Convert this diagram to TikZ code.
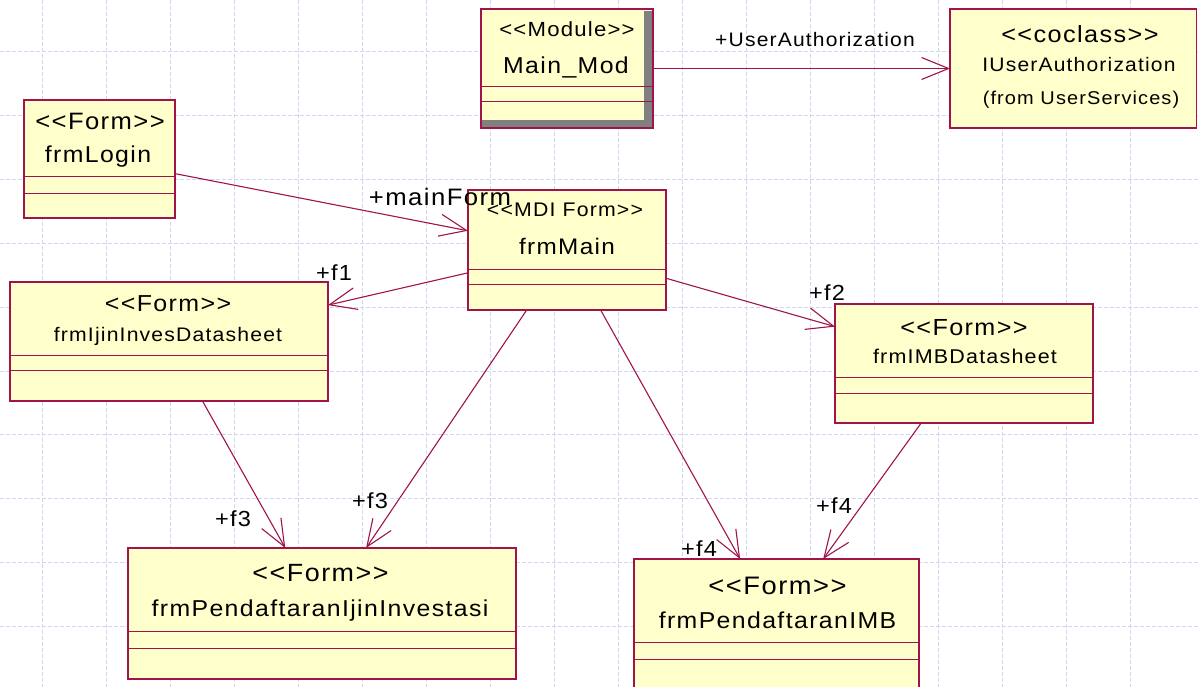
\documentclass[tikz,border=0pt]{standalone}
\usepackage{fontspec}
\setmainfont{Liberation Sans}[LetterSpace=6,FakeStretch=1.08,Ligatures=TeXOff]
\usetikzlibrary{arrows.meta,calc}
\usepackage{xcolor}
\definecolor{umlred}{HTML}{A0144B}
\definecolor{umlfill}{HTML}{FFFFCC}
\definecolor{umlgrid}{HTML}{CDD6F4}
\definecolor{umlshade}{HTML}{808080}
\newcommand{\setfs}[1]{\fontsize{#1}{#1}\selectfont}

\begin{document}
\begin{tikzpicture}[x=1pt,y=-1pt]
		\tikzstyle{every node}=[inner sep=0pt, outer sep=0pt]
		\tikzstyle{umlclass}=[draw=umlred, line width=1.3pt, fill=umlfill, rectangle]
		\tikzstyle{umlsep}=[draw=umlred, line width=1pt]
		\tikzstyle{gridline}=[draw=umlgrid, line width=1pt, dash pattern=on 4pt off 2pt]
		\tikzstyle{assoc}=[draw=umlred, line width=1.1pt, -{Straight Barb[length=27pt,width=22pt,line width=1.1pt]}]
		\tikzstyle{rolelabel}=[anchor=base, font=\setfs{21.8}]
		\tikzstyle{txt}=[anchor=base]
		\fill[white] (0,0) rectangle (1198,687);
		\useasboundingbox (0,0) rectangle (1198,687);
		% background grid
		\foreach \gx in {0,...,17} \draw[gridline] ({42+64*\gx},0) -- ({42+64*\gx},687);
		\foreach \gy in {0,...,9} \draw[gridline] (0,{52+63.8*\gy}) -- (1198,{52+63.8*\gy});
		% classes
		\node[umlclass, minimum width=172pt, minimum height=119pt] (mainMod) at (567,68.5) {};
		\fill[umlshade] (643.5,11) rectangle (652.3,127.3);
		\fill[umlshade] (481.7,120.5) rectangle (652.3,127.3);
		\draw[umlsep] (mainMod.west |- 0,87) -- (mainMod.east |- 0,87);
		\draw[umlsep] (mainMod.west |- 0,102) -- (mainMod.east |- 0,102);
		\draw[draw=umlred, line width=1.3pt] (mainMod.north west) rectangle (mainMod.south east);
		\node[umlclass, minimum width=246.5pt, minimum height=119pt] (iUserAuth) at (1073.25,68.5) {};
		\node[umlclass, minimum width=151pt, minimum height=118pt] (frmLogin) at (99.5,159) {};
		\draw[umlsep] (frmLogin.west |- 0,177) -- (frmLogin.east |- 0,177);
		\draw[umlsep] (frmLogin.west |- 0,193) -- (frmLogin.east |- 0,193);
		\node[umlclass, minimum width=198pt, minimum height=120pt] (frmMain) at (567,250) {};
		\draw[umlsep] (frmMain.west |- 0,269) -- (frmMain.east |- 0,269);
		\draw[umlsep] (frmMain.west |- 0,284) -- (frmMain.east |- 0,284);
		\node[umlclass, minimum width=318pt, minimum height=119pt] (frmIjinInves) at (169,341.5) {};
		\draw[umlsep] (frmIjinInves.west |- 0,355) -- (frmIjinInves.east |- 0,355);
		\draw[umlsep] (frmIjinInves.west |- 0,370) -- (frmIjinInves.east |- 0,370);
		\node[umlclass, minimum width=258pt, minimum height=119pt] (frmIMB) at (964,363.5) {};
		\draw[umlsep] (frmIMB.west |- 0,377) -- (frmIMB.east |- 0,377);
		\draw[umlsep] (frmIMB.west |- 0,393) -- (frmIMB.east |- 0,393);
		\node[umlclass, minimum width=388pt, minimum height=131pt] (frmPendIjin) at (322,613.5) {};
		\draw[umlsep] (frmPendIjin.west |- 0,631) -- (frmPendIjin.east |- 0,631);
		\draw[umlsep] (frmPendIjin.west |- 0,648) -- (frmPendIjin.east |- 0,648);
		\node[umlclass, minimum width=285pt, minimum height=130pt] (frmPendIMB) at (776.5,624) {};
		\draw[umlsep] (frmPendIMB.west |- 0,642) -- (frmPendIMB.east |- 0,642);
		\draw[umlsep] (frmPendIMB.west |- 0,659) -- (frmPendIMB.east |- 0,659);
		% class texts
		\node[txt] (mainModSt) at (567,36.3) {\setfs{20.5}<<Module>>};
		\node[txt] (mainModNm) at (566,73.3) {\setfs{23}Main\_Mod};
		\node[txt] (iUserAuthSt) at (1080,43) {\setfs{23.4}<<coclass>>};
		\node[txt] (iUserAuthNm) at (1079,71.7) {\setfs{19.5}IUserAuthorization};
		\node[txt] (iUserAuthPk) at (1081,105) {\setfs{18.5}(from UserServices)};
		\node[txt] (frmLoginSt) at (100,129.3) {\setfs{23.7}<<Form>>};
		\node[txt] (frmLoginNm) at (98,162.7) {\setfs{23}frmLogin};
		\node[txt] (frmMainSt) at (565,216.7) {\setfs{19.7}<<MDI Form>>};
		\node[txt] (frmMainNm) at (567,254) {\setfs{22.5}frmMain};
		\node[txt] (frmIjinInvesSt) at (168,311.7) {\setfs{23.1}<<Form>>};
		\node[txt] (frmIjinInvesNm) at (168,341.7) {\setfs{19.6}frmIjinInvesDatasheet};
		\node[txt] (frmIMBSt) at (964,335) {\setfs{23.3}<<Form>>};
		\node[txt] (frmIMBNm) at (965,363.3) {\setfs{19.9}frmIMBDatasheet};
		\node[txt] (frmPendIjinSt) at (320.5,581.7) {\setfs{24.9}<<Form>>};
		\node[txt] (frmPendIjinNm) at (320,616.7) {\setfs{23}frmPendaftaranIjinInvestasi};
		\node[txt] (frmPendIMBSt) at (777.5,594) {\setfs{25.3}<<Form>>};
		\node[txt] (frmPendIMBNm) at (777.5,628.3) {\setfs{23}frmPendaftaranIMB};
		% associations
		\draw[assoc] (mainMod) -- (iUserAuth);
		\draw[assoc] (frmLogin) -- (frmMain);
		\draw[assoc] (frmMain) -- (frmIjinInves);
		\draw[assoc] (frmMain) -- (frmIMB);
		\draw[assoc] (frmMain) -- (frmPendIjin);
		\draw[assoc] (frmIjinInves) -- (frmPendIjin);
		\draw[assoc] (frmMain) -- (frmPendIMB);
		\draw[assoc] (frmIMB) -- (frmPendIMB);
		% role names
		\node[rolelabel, font=\setfs{19.5}] (lblAuth) at (815,47) {+UserAuthorization};
		\node[rolelabel, font=\setfs{23.8}] (lblMainForm) at (440,205) {+mainForm};
		\node[rolelabel] (lblF1) at (334,280) {+f1};
		\node[rolelabel] (lblF2) at (827,300) {+f2};
		\node[rolelabel] (lblF3a) at (233,526) {+f3};
		\node[rolelabel] (lblF3b) at (370,508) {+f3};
		\node[rolelabel] (lblF4a) at (699,556) {+f4};
		\node[rolelabel] (lblF4b) at (834,513) {+f4};
	\end{tikzpicture}
\end{document}
